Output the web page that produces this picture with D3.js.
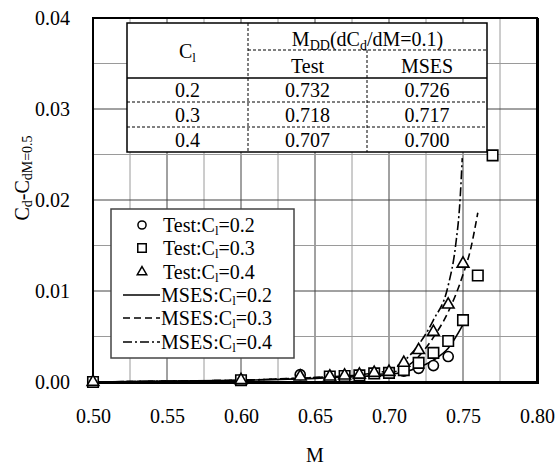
<!DOCTYPE html>
<html>
<head>
<meta charset="utf-8">
<script src="https://cdn.jsdelivr.net/npm/d3@7"></script>
<style>
  body { margin: 0; background: #fff; }
  text { font-family: "Liberation Serif", "Times New Roman", serif; fill: #000; }
</style>
</head>
<body>
<svg id="chart" width="555" height="467"></svg>
<script>
// axis ticks
var mTicks = [0.50, 0.55, 0.60, 0.65, 0.70, 0.75, 0.80];
var cdTicks = [0.00, 0.01, 0.02, 0.03, 0.04];

// test data (symbols)
var testM02 = [0.50, 0.60, 0.64, 0.71, 0.72, 0.73, 0.74];
var testCd02 = [0, 0.0002, 0.0008, 0.0012, 0.0015, 0.0018, 0.0028];
var testM03 = [0.50, 0.60, 0.66, 0.67, 0.68, 0.69, 0.70, 0.71, 0.72, 0.73, 0.74, 0.75, 0.76, 0.77];
var testCd03 = [0, 0.0002, 0.0006, 0.00066, 0.00073, 0.00095, 0.0010, 0.0013, 0.0021, 0.0032, 0.0045, 0.0068, 0.0117, 0.0249];
var testM04 = [0.50, 0.60, 0.64, 0.66, 0.67, 0.68, 0.69, 0.70, 0.71, 0.72, 0.73, 0.74, 0.75];
var testCd04 = [0, 0.0002, 0.0006, 0.0006, 0.0007, 0.0008, 0.0010, 0.0011, 0.0021, 0.0035, 0.0055, 0.0085, 0.0130];

// MSES curves
var msesM02 = [0.50, 0.55, 0.60, 0.65, 0.68, 0.70, 0.71, 0.72, 0.73, 0.74, 0.75];
var msesCd02 = [0, 0.0001, 0.0002, 0.0004, 0.0006, 0.0008, 0.0011, 0.0016, 0.0024, 0.0037, 0.0063];
var msesM03 = [0.50, 0.55, 0.60, 0.65, 0.68, 0.70, 0.71, 0.72, 0.73, 0.74, 0.75, 0.755, 0.76];
var msesCd03 = [0, 0.0001, 0.0002, 0.0005, 0.0007, 0.0010, 0.0015, 0.0028, 0.0049, 0.0077, 0.0118, 0.0145, 0.0186];
var msesM04 = [0.50, 0.55, 0.60, 0.65, 0.68, 0.70, 0.71, 0.72, 0.73, 0.74, 0.745, 0.748, 0.7495];
var msesCd04 = [0, 0.0001, 0.0002, 0.0005, 0.0008, 0.0013, 0.0023, 0.0041, 0.0068, 0.0106, 0.0150, 0.0200, 0.0246];

// table
var tableCl = ["0.2", "0.3", "0.4"];
var tableTest = ["0.732", "0.718", "0.707"];
var tableMses = ["0.726", "0.717", "0.700"];

var legendLabels = ["0.2", "0.3", "0.4"];

var svg = d3.select("#chart");
var pLeft = 93, pRight = 537, pTop = 18, pBottom = 382;

var x = d3.scaleLinear().domain([0.5, 0.8]).range([pLeft, pRight]);
var y = d3.scaleLinear().domain([0, 0.04]).range([pBottom, pTop]);

// grid
var grid = svg.append("g");
d3.range(0, 13).map(i => 0.5 + i * 0.025).forEach(function (v, i) {
  grid.append("line")
    .attr("x1", x(v)).attr("x2", x(v)).attr("y1", pTop).attr("y2", pBottom)
    .attr("stroke", i % 2 == 0 ? "#444" : "#9a9a9a").attr("stroke-width", 1);
});
d3.range(0, 9).map(i => i * 0.005).forEach(function (v, i) {
  grid.append("line")
    .attr("x1", pLeft).attr("x2", pRight).attr("y1", y(v)).attr("y2", y(v))
    .attr("stroke", i % 2 == 0 ? "#444" : "#9a9a9a").attr("stroke-width", 1);
});

// axes (labels only, frame drawn separately)
var xAxis = d3.axisBottom(x).tickValues(mTicks).tickFormat(d3.format(".2f")).tickSize(0).tickPadding(41);
var yAxis = d3.axisLeft(y).tickValues(cdTicks).tickFormat(d3.format(".2f")).tickSize(0).tickPadding(23);
svg.append("g").attr("transform", "translate(0," + pBottom + ")").call(xAxis)
  .call(g => g.select(".domain").remove())
  .selectAll("text").style("font-size", "20px").attr("dy", "0");
svg.append("g").attr("transform", "translate(" + pLeft + ",0)").call(yAxis)
  .call(g => g.select(".domain").remove())
  .selectAll("text").style("font-size", "20px").attr("dy", "0.34em");

// frame
svg.append("rect").attr("x", pLeft).attr("y", pTop).attr("width", pRight - pLeft).attr("height", pBottom - pTop)
  .attr("fill", "none").attr("stroke", "#000").attr("stroke-width", 2);
svg.append("line").attr("x1", pLeft).attr("x2", pRight + 1.5).attr("y1", pBottom + 0.5).attr("y2", pBottom + 0.5)
  .attr("stroke", "#000").attr("stroke-width", 3);
svg.append("line").attr("x1", pRight + 0.5).attr("x2", pRight + 0.5).attr("y1", pTop).attr("y2", pBottom + 2)
  .attr("stroke", "#000").attr("stroke-width", 3);

// axis titles
svg.append("text").attr("x", (pLeft + pRight) / 2).attr("y", 462).attr("text-anchor", "middle")
  .style("font-size", "20px").text("M");
var yt = svg.append("text").attr("transform", "translate(29,178) rotate(-90)")
  .attr("text-anchor", "middle").style("font-size", "20px");
yt.append("tspan").text("C");
yt.append("tspan").attr("dy", 3).style("font-size", "14px").text("d");
yt.append("tspan").attr("dy", -3).text("-C");
yt.append("tspan").attr("dy", 3).style("font-size", "14px").text("dM=0.5");

// table
var tb = svg.append("g");
var tL = 127, tR = 487, c1 = 248, c2 = 367;
var rows = [23, 50, 78, 102, 127, 152];
tb.append("rect").attr("x", tL).attr("y", rows[0]).attr("width", tR - tL).attr("height", rows[5] - rows[0])
  .attr("fill", "#fff").attr("stroke", "#000").attr("stroke-width", 1.5);
function dashed(x1, y1, x2, y2) {
  tb.append("line").attr("x1", x1).attr("y1", y1).attr("x2", x2).attr("y2", y2)
    .attr("stroke", "#000").attr("stroke-width", 1).attr("stroke-dasharray", "3,2");
}
dashed(c1, rows[0], c1, rows[5]);
dashed(c2, rows[1], c2, rows[5]);
dashed(c1, rows[1], tR, rows[1]);
dashed(tL, rows[3], tR, rows[3]);
dashed(tL, rows[4], tR, rows[4]);
tb.append("line").attr("x1", tL).attr("x2", tR).attr("y1", rows[2]).attr("y2", rows[2])
  .attr("stroke", "#000").attr("stroke-width", 1.5);

var h1 = tb.append("text").attr("x", (tL + c1) / 2).attr("y", 58).attr("text-anchor", "middle").style("font-size", "20px");
h1.append("tspan").text("C");
h1.append("tspan").attr("dy", 4).style("font-size", "13px").text("l");
var h2 = tb.append("text").attr("x", (c1 + tR) / 2).attr("y", 46).attr("text-anchor", "middle").style("font-size", "20px");
h2.append("tspan").text("M");
h2.append("tspan").attr("dy", 4).style("font-size", "14px").text("DD");
h2.append("tspan").attr("dy", -4).text("(dC");
h2.append("tspan").attr("dy", 4).style("font-size", "14px").text("d");
h2.append("tspan").attr("dy", -4).text("/dM=0.1)");
tb.append("text").attr("x", (c1 + c2) / 2).attr("y", 73).attr("text-anchor", "middle").style("font-size", "20px").text("Test");
tb.append("text").attr("x", (c2 + tR) / 2).attr("y", 73).attr("text-anchor", "middle").style("font-size", "20px").text("MSES");
tableCl.forEach(function (cl, i) {
  var by = rows[i + 3] - 5;
  tb.append("text").attr("x", (tL + c1) / 2).attr("y", by).attr("text-anchor", "middle").style("font-size", "20px").text(cl);
  tb.append("text").attr("x", (c1 + c2) / 2).attr("y", by).attr("text-anchor", "middle").style("font-size", "20px").text(tableTest[i]);
  tb.append("text").attr("x", (c2 + tR) / 2).attr("y", by).attr("text-anchor", "middle").style("font-size", "20px").text(tableMses[i]);
});

// MSES lines
var dashes = [null, "7,4", "9,3,2,3"];
var line = d3.line().x(d => x(d[0])).y(d => y(d[1])).curve(d3.curveMonotoneX);
[[msesM02, msesCd02], [msesM03, msesCd03], [msesM04, msesCd04]].forEach(function (s, i) {
  svg.append("path").datum(d3.zip(s[0], s[1]))
    .attr("d", line).attr("fill", "none").attr("stroke", "#000").attr("stroke-width", 1.6)
    .attr("stroke-dasharray", dashes[i]);
});

// test symbols
var symTypes = [d3.symbolCircle, d3.symbolSquare, d3.symbolTriangle];
var symSizes = [80, 110, 60];
function drawTest(ms, cds, k) {
  svg.append("g").selectAll("path").data(d3.zip(ms, cds)).join("path")
    .attr("d", d3.symbol().type(symTypes[k]).size(symSizes[k]))
    .attr("transform", d => "translate(" + x(d[0]) + "," + y(d[1]) + ")")
    .attr("fill", "#fff").attr("stroke", "#000").attr("stroke-width", 1.6);
}
drawTest(testM02, testCd02, 0);
drawTest(testM03, testCd03, 1);
drawTest(testM04, testCd04, 2);

// legend
var lg = svg.append("g");
lg.append("rect").attr("x", 111).attr("y", 209).attr("width", 183).attr("height", 149)
  .attr("fill", "#fff").attr("stroke", "#444").attr("stroke-width", 1.5);
var rowY = [225, 248, 272, 295, 318, 342];
legendLabels.forEach(function (lab, i) {
  lg.append("path").attr("d", d3.symbol().type(symTypes[i]).size(symSizes[i] * 0.65))
    .attr("transform", "translate(142," + rowY[i] + ")")
    .attr("fill", "#fff").attr("stroke", "#000").attr("stroke-width", 1.5);
  var t = lg.append("text").attr("x", 163).attr("y", rowY[i] + 7).style("font-size", "20px");
  t.append("tspan").text("Test:C");
  t.append("tspan").attr("dy", 3).style("font-size", "13px").text("l");
  t.append("tspan").attr("dy", -3).text("=" + lab);
});
legendLabels.forEach(function (lab, i) {
  var ry = rowY[i + 3];
  lg.append("line").attr("x1", 123).attr("x2", 160).attr("y1", ry).attr("y2", ry)
    .attr("stroke", "#000").attr("stroke-width", 1.5).attr("stroke-dasharray", dashes[i]);
  var t = lg.append("text").attr("x", 161).attr("y", ry + 7).style("font-size", "20px");
  t.append("tspan").text("MSES:C");
  t.append("tspan").attr("dy", 3).style("font-size", "13px").text("l");
  t.append("tspan").attr("dy", -3).text("=" + lab);
});
</script>
</body>
</html>
